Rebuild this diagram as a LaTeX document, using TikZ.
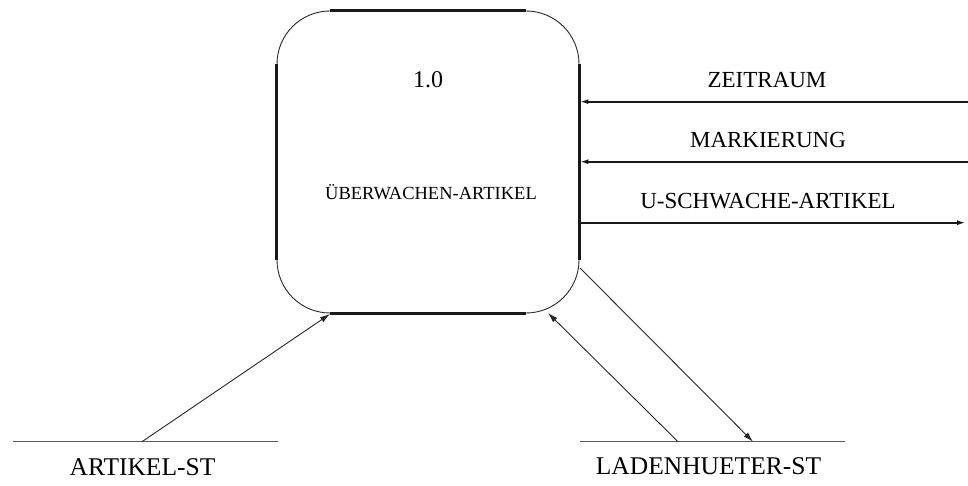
\documentclass[tikz,border=0pt]{standalone}
\usepackage{fontspec}
\setmainfont{Liberation Serif}
\usetikzlibrary{arrows.meta,calc}
\tikzset{
  thinline/.style={line width=0.9pt, draw=black!85},
  thickline/.style={line width=2.3pt, draw=black!90},
  flowR/.style={line width=2.2pt, draw=black!90, -{Latex[length=9pt,width=5pt]}},
  flowD/.style={line width=0.9pt, draw=black!85, -{Latex[length=10pt,width=6pt]}},
  storeline/.style={line width=1pt, draw=black!65},
  lbl/.style={font=\fontsize{23}{27}\selectfont, anchor=base, inner sep=0pt},
  storelbl/.style={font=\fontsize{25.5}{30}\selectfont, anchor=base, inner sep=0pt},
}
\begin{document}
\begin{tikzpicture}[x=1pt,y=-1pt]
\useasboundingbox (0,0) rectangle (968,486);
% process box
\node[draw=black!85, line width=0.9pt, rounded corners=53pt, minimum width=302pt, minimum height=302pt, inner sep=0pt] (proc) at (428,162) {};
\draw[thickline] ($(proc.north west)+(53,0)$) -- ($(proc.north east)+(-53,0)$);
\draw[thickline] ($(proc.south west)+(53,0)$) -- ($(proc.south east)+(-53,0)$);
\draw[thickline] ($(proc.north west)+(0,53)$) -- ($(proc.south west)+(0,-53)$);
\draw[thickline] ($(proc.north east)+(0,53)$) -- ($(proc.south east)+(0,-53)$);
\node[font=\fontsize{24}{28}\selectfont, anchor=base, inner sep=0pt] (pnum) at (428,88) {1.0};
\node[font=\fontsize{18.5}{22}\selectfont, anchor=base, inner sep=0pt] (pname) at (431,200) {ÜBERWACHEN-ARTIKEL};
% right flows
\coordinate (z) at (968,101.7);
\coordinate (m) at (968,161.7);
\coordinate (u) at (966,222.7);
\draw[flowR] (z) -- (proc.east |- z);
\draw[flowR] (m) -- (proc.east |- m);
\draw[flowR] (proc.east |- u) -- (u);
\node[lbl] (lz) at (767,88) {ZEITRAUM};
\node[lbl] (lm) at (768,148) {MARKIERUNG};
\node[lbl] (lu) at (768,208.5) {U-SCHWACHE-ARTIKEL};
% stores
\coordinate (a1) at (13,441.7);
\coordinate (a2) at (278,441.7);
\coordinate (l1) at (580,441.7);
\coordinate (l2) at (845,441.7);
\draw[storeline] (a1) -- (a2);
\draw[storeline] (l1) -- (l2);
\node[storelbl] (alab) at (142.5,475) {ARTIKEL-ST};
\node[storelbl] (llab) at (708.5,474) {LADENHUETER-ST};
% diagonal flows
\coordinate (as) at (142,441.7);
\coordinate (at) at (330,314);
\draw[flowD] (as) -- (at);
\coordinate (ls1) at (678,441.7);
\coordinate (lt1) at (548,313);
\draw[flowD] (ls1) -- (lt1);
\coordinate (ls2) at (580,268);
\coordinate (lt2) at (753,441.7);
\draw[flowD] (ls2) -- (lt2);
\end{tikzpicture}
\end{document}
